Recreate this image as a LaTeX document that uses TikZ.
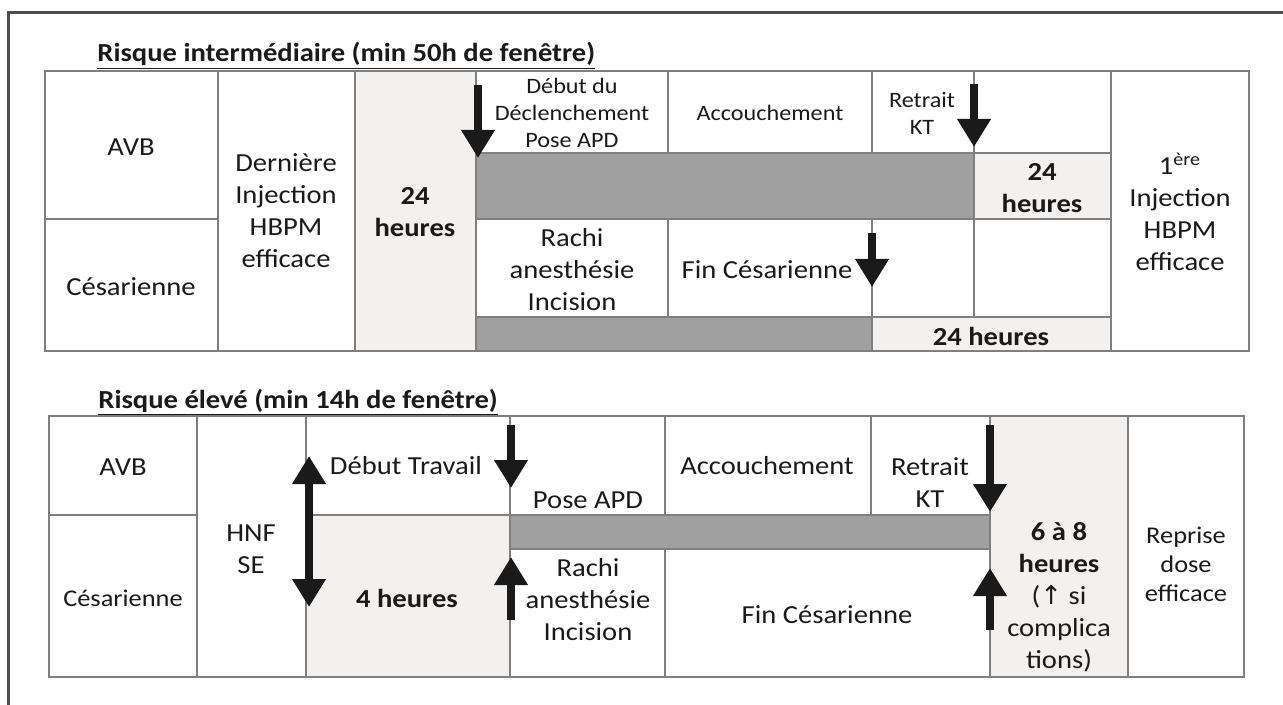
\documentclass[tikz,border=0pt]{standalone}
\usepackage{fontspec}
\setmainfont{Carlito}[FakeStretch=1.1]
\newfontfamily\symfont{DejaVu Sans}
\usetikzlibrary{arrows.meta}
\definecolor{linec}{HTML}{7F7F7F}
\definecolor{framec}{HTML}{4D4D4D}
\definecolor{darkbar}{HTML}{A0A0A0}
\definecolor{lightbar}{HTML}{F2F1EF}
\definecolor{arrowc}{HTML}{1A1A1A}
\definecolor{textc}{HTML}{1A1A1A}
\begin{document}
\begin{tikzpicture}[x=0.5pt,y=-0.5pt,
  gridline/.style={draw=linec, line width=0.9pt},
  big/.style={font=\fontsize{13}{16}\selectfont, align=center, text=textc, inner sep=0pt},
  bigb/.style={font=\fontsize{13}{16}\selectfont\bfseries, align=center, text=textc, inner sep=0pt},
  small/.style={font=\fontsize{11}{13.5}\selectfont, align=center, text=textc, inner sep=0pt},
  mid/.style={font=\fontsize{12}{14.5}\selectfont, align=center, text=textc, inner sep=0pt},
  titlest/.style={font=\fontsize{13}{16}\selectfont\bfseries, text=textc, inner sep=0pt, anchor=base west},
  bigarrow/.style={draw=arrowc, line width=4pt, -{Triangle[width=16pt,length=14pt,fill=arrowc]}},
  dblarrow/.style={draw=arrowc, line width=4pt, {Triangle[width=16pt,length=14pt,fill=arrowc]}-{Triangle[width=16pt,length=14pt,fill=arrowc]}}]
\useasboundingbox (0,0) rectangle (1283,705);
% frame
\draw[framec, line width=1.5pt] (8.5,720) -- (8.5,12.5) -- (1300,12.5);

% ---------- top table ----------
\node[titlest] (t1) at (97,62) {\underline{Risque intermédiaire (min 50h de fenêtre)}};
\fill[lightbar] (355,71) rectangle (476,351);
\fill[darkbar] (476,153) rectangle (974,219);
\fill[lightbar] (974,153) rectangle (1111,219);
\fill[darkbar] (476,317) rectangle (872,351);
\fill[lightbar] (872,317) rectangle (1111,351);
\draw[gridline] (45,71) rectangle (1249,351);
\draw[gridline] (218,71) -- (218,351) (355,71) -- (355,351) (476,71) -- (476,351) (1111,71) -- (1111,351);
\draw[gridline] (45,219) -- (218,219);
\draw[gridline] (476,153) -- (1111,153) (476,219) -- (1111,219) (476,317) -- (1111,317);
\draw[gridline] (668,71) -- (668,153) (668,219) -- (668,317);
\draw[gridline] (872,71) -- (872,153) (872,219) -- (872,351);
\draw[gridline] (974,71) -- (974,317);

\node[big] (avb1) at (131,147) {AVB};
\node[big] (ces1) at (131,287) {Césarienne};
\node[big] (der) at (286,211) {Dernière\\Injection\\HBPM\\efficace};
\node[bigb] (h24a) at (415,212) {24\\heures};
\node[small] (deb) at (572,113) {Début du\\Déclenchement\\Pose APD};
\node[small] (acc1) at (770,113) {Accouchement};
\node[small] (ret1) at (922,113) {Retrait\\KT};
\node[bigb] (h24b) at (1042,188) {24\\heures};
\node[big] (rachi1) at (572,270) {Rachi\\anesthésie\\Incision};
\node[big] (fin1) at (767,270) {Fin Césarienne};
\node[bigb] (h24c) at (991,336) {24 heures};
\node[big] (inj1) at (1180,212) {1\textsuperscript{ère}\\Injection\\HBPM\\efficace};

\coordinate (a1s) at (478,85);  \coordinate (a1e) at (478,158);
\coordinate (a2s) at (974,84);  \coordinate (a2e) at (974,147);
\coordinate (a3s) at (872,233); \coordinate (a3e) at (872,287);
\draw[bigarrow] (a1s) -- (a1e);
\draw[bigarrow] (a2s) -- (a2e);
\draw[bigarrow] (a3s) -- (a3e);

% ---------- bottom table ----------
\node[titlest] (t2) at (98,408) {\underline{Risque élevé (min 14h de fenêtre)}};
\fill[lightbar] (306,515) rectangle (510,677);
\fill[darkbar] (510,515) rectangle (990,549);
\fill[lightbar] (990,416) rectangle (1128,677);
\draw[gridline] (49,416) rectangle (1244,677);
\draw[gridline] (197,416) -- (197,677) (306,416) -- (306,677) (510,416) -- (510,677) (990,416) -- (990,677) (1128,416) -- (1128,677);
\draw[gridline] (665,416) -- (665,515) (665,549) -- (665,677) (871,416) -- (871,515);
\draw[gridline] (49,515) -- (197,515) (306,515) -- (990,515) (510,549) -- (990,549);

\node[big] (avb2) at (123,467) {AVB};
\node[mid] (ces2) at (123,598) {Césarienne};
\node[big] (hnf) at (251,549) {HNF\\SE};
\node[big] (debt) at (406,466) {Début Travail};
\node[bigb] (h4) at (407,598) {4 heures};
\node[big] (pose) at (588,500) {Pose APD};
\node[big] (rachi2) at (588,600) {Rachi\\anesthésie\\Incision};
\node[big] (acc2) at (767,466) {Accouchement};
\node[big] (ret2) at (930,483) {Retrait\\KT};
\node[big] (fin2) at (827,615) {Fin Césarienne};
\node[big] (h68) at (1059,597) {\textbf{6 à 8}\\\textbf{heures}\\({\symfont ↑} si\\complica\\tions)};
\node[mid] (rep) at (1186,564) {Reprise\\dose\\efficace};

\coordinate (b1s) at (309,456); \coordinate (b1e) at (309,607);
\coordinate (b2s) at (511,425); \coordinate (b2e) at (511,488);
\coordinate (b3s) at (511,620); \coordinate (b3e) at (511,557);
\coordinate (b4s) at (990,425); \coordinate (b4e) at (990,512);
\coordinate (b5s) at (990,630); \coordinate (b5e) at (990,568);
\draw[dblarrow] (b1s) -- (b1e);
\draw[bigarrow] (b2s) -- (b2e);
\draw[bigarrow] (b3s) -- (b3e);
\draw[bigarrow] (b4s) -- (b4e);
\draw[bigarrow] (b5s) -- (b5e);
\end{tikzpicture}
\end{document}
